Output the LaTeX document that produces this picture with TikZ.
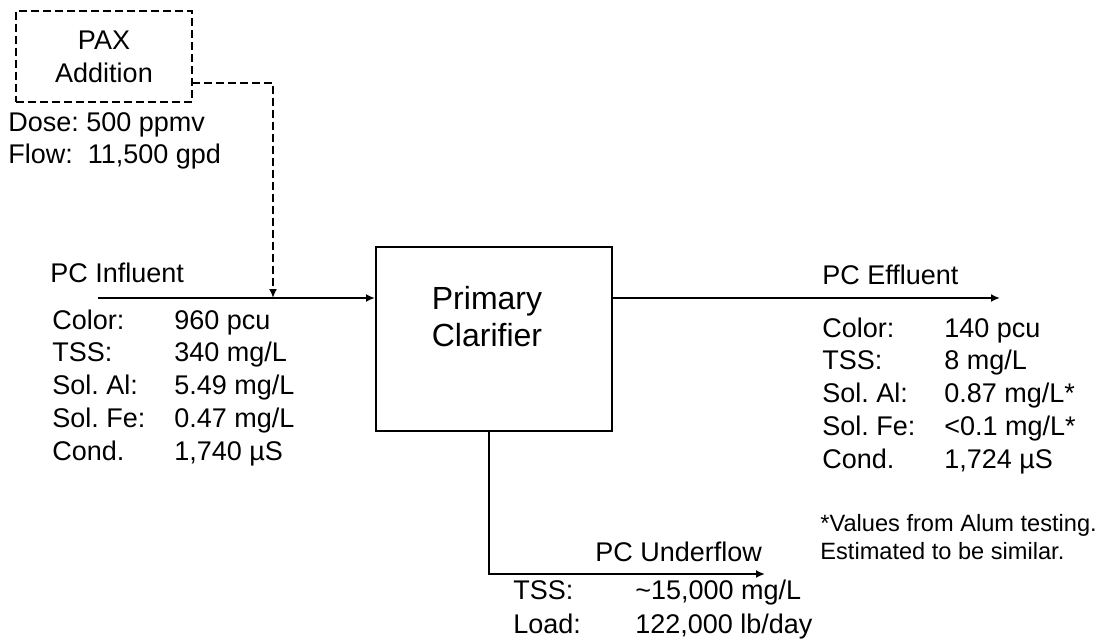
\documentclass[tikz,border=0pt]{standalone}
\usepackage{fontspec}
\setmainfont{Liberation Sans}
\usetikzlibrary{arrows.meta, positioning, calc}
\frenchspacing
\tikzset{
  unit/.style={rectangle, draw=black, line width=1pt, inner sep=0pt},
  dosing/.style={unit, dash pattern=on 4pt off 2pt, align=center,
    font=\fontsize{13.5}{16.5}\selectfont},
  flow/.style={-{Latex[length=4.5pt,width=4pt]}, line width=1pt},
  dosingflow/.style={flow, dash pattern=on 4pt off 2pt},
  streamlbl/.style={anchor=base west, inner sep=0pt, font=\fontsize{13.5}{16.4}\selectfont},
  note/.style={anchor=base west, inner sep=0pt, font=\fontsize{11.8}{14}\selectfont}
}
\newcommand{\streamdata}[1]{\begin{tabular}[t]{@{}p{61pt}@{}l@{}}#1\end{tabular}}

\begin{document}
\begin{tikzpicture}[x=0.5pt, y=-0.5pt]
  \useasboundingbox (0,0) rectangle (1102,642);

  % Units
  \node[dosing, minimum width=88pt, minimum height=45.5pt] (pax) at (104,56.5) {PAX\\Addition};
  \node[unit, minimum width=118pt, minimum height=92pt] (pc) at (494,339) {};
  \node[align=center, inner sep=0pt, font=\fontsize{16}{18.5}\selectfont] (pctext) at (487,317) {Primary\\Clarifier};

  % Stream ends
  \coordinate (paxout) at (192,83);
  \coordinate (mix) at (273,298);
  \coordinate (infin) at (98,298);
  \coordinate (effout) at (1000,298);
  \coordinate (ufout) at (765,574);

  % Streams
  \draw[dosingflow] (paxout) -| (mix);
  \draw[flow] (infin) -- (pc.west |- infin);
  \draw[flow] (pc.east |- effout) -- (effout);
  \draw[flow] ($(pc.south)+(-5,0)$) |- (ufout);

  % Dosing data
  \node[streamlbl] (dose) at (8,132) {\begin{tabular}[t]{@{}l@{}}Dose: 500 ppmv\\[-0.4pt] Flow:\ \ 11,500 gpd\end{tabular}};

  % Influent
  \node[streamlbl] (inflbl) at (50,282) {PC Influent};
  \node[streamlbl] (infdata) at (52,329) {\streamdata{%
    Color: & 960 pcu\\ TSS: & 340 mg/L\\ Sol. Al: & 5.49 mg/L\\
    Sol. Fe: & 0.47 mg/L\\ Cond. & 1,740 µS}};

  % Effluent
  \node[streamlbl] (efflbl) at (822,284) {PC Effluent};
  \node[streamlbl] (effdata) at (822,337) {\streamdata{%
    Color: & 140 pcu\\ TSS: & 8 mg/L\\ Sol. Al: & 0.87 mg/L*\\
    Sol. Fe: & <0.1 mg/L*\\ Cond. & 1,724 µS}};
  \node[note] (effnote) at (820,531) {\begin{tabular}[t]{@{}l@{}}*Values from Alum testing.\\ Estimated to be similar.\end{tabular}};

  % Underflow
  \node[streamlbl] (uflbl) at (595,561) {PC Underflow};
  \node[streamlbl] (ufdata) at (513,599) {\streamdata{%
    TSS: & \textasciitilde 15,000 mg/L\\[1pt] Load: & 122,000 lb/day}};
\end{tikzpicture}
\end{document}
